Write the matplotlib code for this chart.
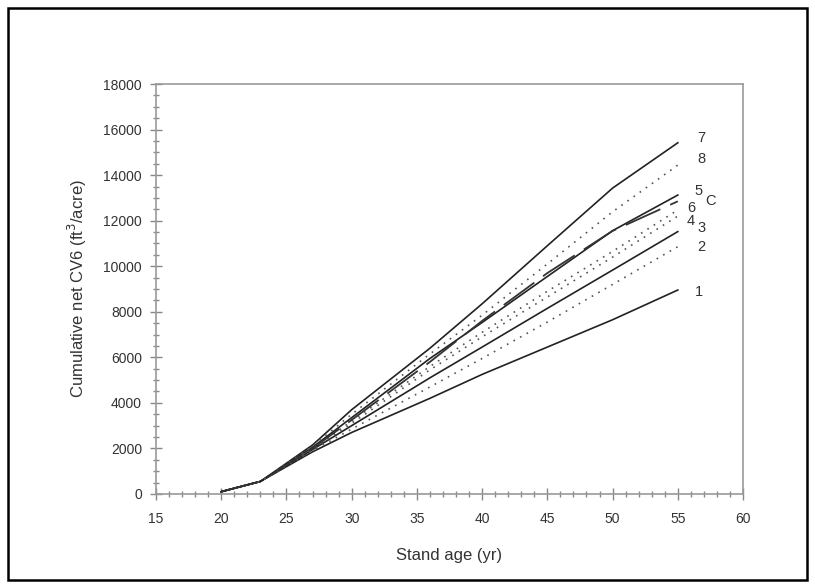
import matplotlib
matplotlib.use("Agg")
import matplotlib.pyplot as plt
from matplotlib.ticker import MultipleLocator
from matplotlib.patches import Rectangle

plt.rcParams['font.family'] = ['Liberation Sans', 'DejaVu Sans']

# stand ages (yr)
ages = [20, 23, 27, 30, 36, 40, 45, 50, 55]

# cumulative net CV6 (ft3/acre) for each curve
cv_1 = [100, 550, 1850, 2700, 4200, 5250, 6450, 7650, 8955]
cv_2 = [100, 550, 1900, 2850, 4700, 5950, 7550, 9200, 10860]
cv_3 = [100, 550, 1950, 3000, 5100, 6450, 8150, 9830, 11520]
cv_4 = [100, 550, 1950, 3100, 5450, 6900, 8650, 10400, 12200]
cv_5 = [100, 550, 2050, 3350, 5950, 7530, 9550, 11560, 13125]
cv_6 = [100, 550, 2000, 3200, 5600, 7100, 8900, 10650, 12470]
cv_7 = [100, 550, 2150, 3700, 6400, 8350, 10900, 13430, 15420]
cv_8 = [100, 550, 2100, 3500, 6150, 7850, 10100, 12390, 14440]
cv_c = [100, 550, 2000, 3250, 5800, 7600, 9700, 11550, 12850]

fig = plt.figure(figsize=(8.15, 5.88), dpi=100)
ax = fig.add_axes([0.1914, 0.1599, 0.7203, 0.6972])

solid = dict(color='#222222', lw=1.2, ls='-')
dotted = dict(color='#555555', lw=1.2, ls=(0, (1, 3.5)))

ax.plot(ages, cv_1, **solid)
ax.plot(ages, cv_3, **solid)
ax.plot(ages, cv_5, **solid)
ax.plot(ages, cv_7, **solid)
ax.plot(ages, cv_2, **dotted)
ax.plot(ages, cv_4, **dotted)
ax.plot(ages, cv_6, **dotted)
ax.plot(ages, cv_8, **dotted)
ax.plot(ages, cv_c, color='#333333', lw=1.3, ls=(0, (21, 6)))

# curve labels at the right end
curve_names = ['7', '8', '5', 'C', '6', '4', '3', '2', '1']
name_x = [56.5, 56.5, 56.3, 57.1, 55.7, 55.7, 56.5, 56.5, 56.3]
name_y = [15630, 14700, 13300, 12860, 12550, 11980, 11680, 10840, 8870]
for t, x, y in zip(curve_names, name_x, name_y):
    ax.text(x, y, t, fontsize=10.5, color='#333333', ha='left', va='center')

ax.set_xlim(15, 60)
ax.set_ylim(0, 18000)
ax.xaxis.set_major_locator(MultipleLocator(5))
ax.xaxis.set_minor_locator(MultipleLocator(1))
ax.yaxis.set_major_locator(MultipleLocator(2000))
ax.yaxis.set_minor_locator(MultipleLocator(500))
ax.tick_params(which='major', direction='inout', length=8, width=1, color='#888888',
               labelsize=10, labelcolor='#333333', pad=6)
ax.tick_params(axis='x', which='major', pad=9)
ax.tick_params(which='minor', direction='inout', length=4, width=1, color='#888888')
ax.tick_params(axis='y', which='both', right=False)
ax.tick_params(axis='x', which='both', top=False)
for s in ax.spines.values():
    s.set_color('#999999')
    s.set_linewidth(1.2)

ax.set_xlabel('Stand age (yr)', fontsize=12, color='#333333', labelpad=16)
ax.set_ylabel('Cumulative net CV6 (ft$^3$/acre)', fontsize=12, color='#333333', labelpad=10)

# outer frame around the figure
fig.patches.append(Rectangle((0.010, 0.014), 0.980, 0.972, transform=fig.transFigure,
                             fill=False, edgecolor='black', lw=1.8))

fig.savefig('out.png', dpi=100)
